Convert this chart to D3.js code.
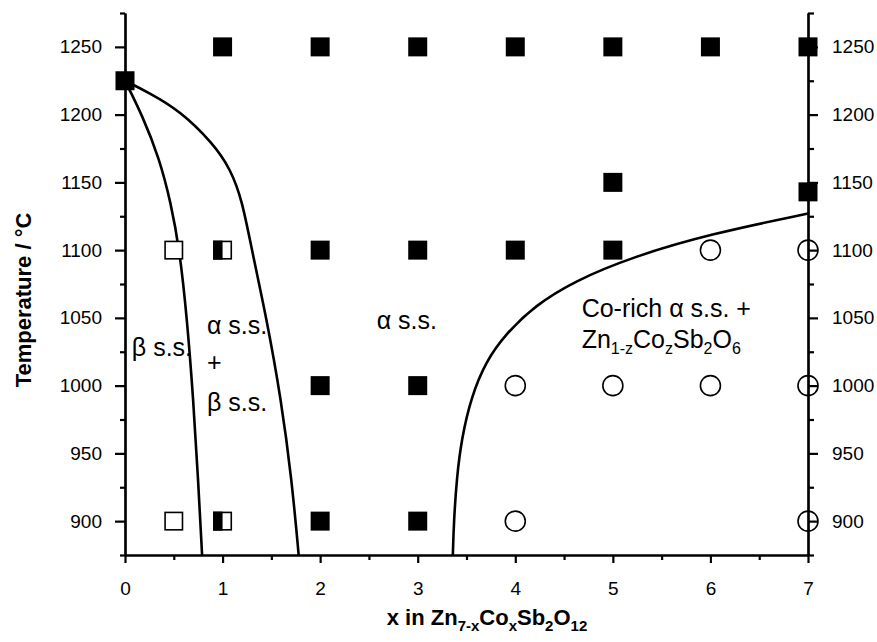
<!DOCTYPE html>
<html lang="en">
<head>
<meta charset="utf-8">
<script src="https://d3js.org/d3.v7.min.js"></script>
<title>Zn7-xCoxSb2O12 phase diagram</title>
<style>
    body { margin: 0; background: #fff; }
    svg { display: block; }
    text { font-family: "Liberation Sans", Arial, sans-serif; fill: #000; }
</style>
</head>
<body>
<script>
const width = 877;
const height = 642;
const margin = {top: 13, right: 69, bottom: 87, left: 125};

// data (x in Zn7-xCoxSb2O12, temperature in °C)
const filledSquares = [[0,1225],[1,1250],[2,1250],[3,1250],[4,1250],[5,1250],[6,1250],[7,1250],
    [5,1150],[7,1143],[2,1100],[3,1100],[4,1100],[5,1100],[2,1000],[3,1000],[2,900],[3,900]];
const openSquares = [[0.5,1100],[0.5,900]];
const halfSquares = [[1,1100],[1,900]];
const openCircles = [[6,1100],[7,1100],[4,1000],[5,1000],[6,1000],[7,1000],[4,900],[7,900]];

// phase boundaries
const betaLine = [[0,1225],[0.18,1199],[0.35,1168],[0.47,1135],[0.56,1100],[0.635,1050],[0.7,990],[0.75,930],[0.79,875]];
const alphaLine = [[0,1225],[0.25,1216],[0.56,1203],[0.9,1179],[1.08,1160],[1.2,1137],[1.3,1100],[1.45,1050],[1.6,990],[1.71,930],[1.78,875]];
const coRichLine = [[3.36,875],[3.37,899],[3.4,932],[3.45,961],[3.55,992],[3.7,1018],[3.9,1038],[4.2,1059],[4.6,1077],[5.2,1095],[6.0,1112],[7.0,1127]];

const xTicks = [0,1,2,3,4,5,6,7];
const xMinor = [0.5,1.5,2.5,3.5,4.5,5.5,6.5];
const yTicks = [900,950,1000,1050,1100,1150,1200,1250];
const yMinor = [875,925,975,1025,1075,1125,1175,1225,1275];

const svg = d3.select('body').append('svg').attr('width', width).attr('height', height);

const x = d3.scaleLinear().domain([0,7]).range([margin.left, width - margin.right]);
const y = d3.scaleLinear().domain([875,1275]).range([height - margin.bottom, margin.top]);

// boundaries
const line = d3.line().x(d => x(d[0])).y(d => y(d[1])).curve(d3.curveBasis);
const g = svg.append('g');
[betaLine, alphaLine, coRichLine].forEach(pts => {
    g.append('path').datum(pts).attr('d', line)
        .attr('fill','none').attr('stroke','#000').attr('stroke-width',2.6);
});

// markers
const s = 19;
g.selectAll('.fsq').data(filledSquares).enter().append('rect')
    .attr('x', d => x(d[0]) - s/2).attr('y', d => y(d[1]) - s/2)
    .attr('width', s).attr('height', s).attr('fill','#000');
g.selectAll('.osq').data(openSquares.concat(halfSquares)).enter().append('rect')
    .attr('x', d => x(d[0]) - (s-1.6)/2).attr('y', d => y(d[1]) - (s-1.6)/2)
    .attr('width', s-1.6).attr('height', s-1.6).attr('fill','#fff').attr('stroke','#000').attr('stroke-width',1.6);
g.selectAll('.hsqf').data(halfSquares).enter().append('rect')
    .attr('x', d => x(d[0]) - s/2).attr('y', d => y(d[1]) - s/2)
    .attr('width', s/2).attr('height', s).attr('fill','#000');
g.selectAll('circle').data(openCircles).enter().append('circle')
    .attr('cx', d => x(d[0])).attr('cy', d => y(d[1])).attr('r', 10)
    .attr('fill','#fff').attr('stroke','#000').attr('stroke-width',1.6);

// axes
function styleAxis(sel) {
    sel.selectAll('path').attr('stroke-width', 2.2);
    sel.selectAll('line').attr('stroke-width', 2.2);
    sel.selectAll('text').attr('font-size', 19).attr('font-family', '"Liberation Sans", Arial, sans-serif');
}
const bottom = height - margin.bottom;
svg.append('g').attr('transform', `translate(0,${bottom})`)
    .call(d3.axisBottom(x).tickValues(xMinor).tickSize(5).tickSizeOuter(0).tickFormat(''))
    .call(styleAxis);
svg.append('g').attr('transform', `translate(0,${bottom})`)
    .call(d3.axisBottom(x).tickValues(xTicks).tickSize(8).tickSizeOuter(0).tickPadding(19).tickFormat(d3.format('d')))
    .call(styleAxis);

svg.append('g').attr('transform', `translate(${margin.left},0)`)
    .call(d3.axisLeft(y).tickValues(yMinor).tickSize(5).tickSizeOuter(0).tickFormat(''))
    .call(styleAxis);
svg.append('g').attr('transform', `translate(${margin.left},0)`)
    .call(d3.axisLeft(y).tickValues(yTicks).tickSize(10).tickSizeOuter(0).tickPadding(13).tickFormat(d3.format('d')))
    .call(styleAxis);

const right = width - margin.right;
svg.append('g').attr('transform', `translate(${right},0)`)
    .call(d3.axisRight(y).tickValues(yMinor).tickSize(6).tickSizeOuter(0).tickFormat(''))
    .call(styleAxis);
svg.append('g').attr('transform', `translate(${right},0)`)
    .call(d3.axisRight(y).tickValues(yTicks).tickSize(10).tickSizeOuter(0).tickPadding(14).tickFormat(d3.format('d')))
    .call(styleAxis);

// text with subscripts: parts alternate main / sub
function richText(t, parts, subSize) {
    parts.forEach((p, i) => {
        const sp = t.append('tspan').text(p);
        if (i % 2 === 1) sp.attr('font-size', subSize).attr('dy', 6);
        else if (i > 0) sp.attr('dy', -6);
    });
}

// axis titles
svg.append('text')
    .attr('transform', `translate(31,${(margin.top + bottom) / 2 + 16}) rotate(-90)`)
    .attr('text-anchor','middle').attr('font-size', 22).attr('font-weight','bold')
    .text('Temperature / °C');

const xt = svg.append('text')
    .attr('x', 487).attr('y', 625)
    .attr('text-anchor','middle').attr('font-size', 22).attr('font-weight','bold');
richText(xt, ['x in Zn', '7-x', 'Co', 'x', 'Sb', '2', 'O', '12'], 15);

// region labels
const labelSize = 25;
function label(px, t, txt) {
    return svg.append('text').attr('x', x(px)).attr('y', y(t)).attr('font-size', labelSize).text(txt);
}
label(0.07, 1022, 'β s.s.');
label(0.84, 1038, 'α s.s.');
label(0.84, 1011, '+');
label(0.84, 981, 'β s.s.');
label(2.58, 1042, 'α s.s.');
label(4.68, 1050.5, 'Co-rich α s.s. +');
const zn = svg.append('text').attr('x', x(4.68)).attr('y', y(1027.5)).attr('font-size', labelSize);
richText(zn, ['Zn', '1-z', 'Co', 'z', 'Sb', '2', 'O', '6'], 16);
</script>
</body>
</html>
